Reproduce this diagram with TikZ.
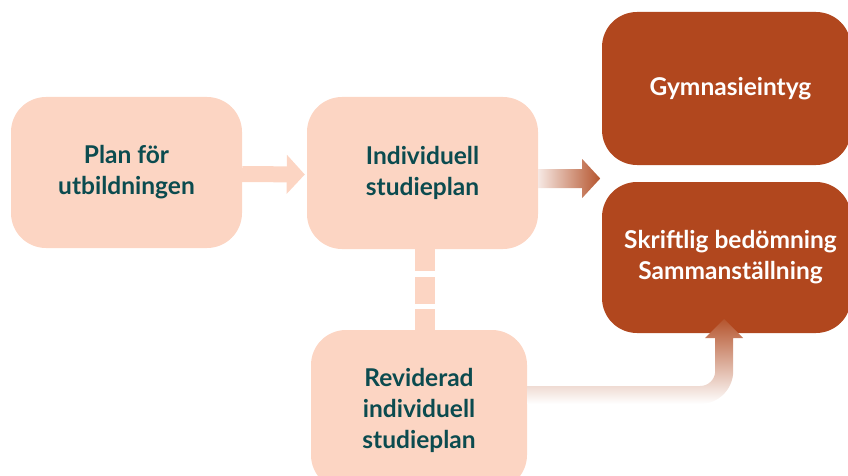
\documentclass[tikz,border=0pt]{standalone}
\usepackage{fontspec}
\setmainfont{Lato}[BoldFont={* Bold}]
\usetikzlibrary{arrows.meta,calc}
\definecolor{peach}{HTML}{FCD5C3}
\definecolor{rust}{HTML}{B1471E}
\definecolor{teal}{HTML}{0B4B4F}
\definecolor{fadeA}{HTML}{F6E8E3}
\definecolor{fadeB}{HTML}{B5552E}
\tikzset{
  lightbox/.style={fill=peach, rounded corners=35pt, inner sep=0pt, align=center,
    text=teal, font=\fontsize{24.5}{31}\selectfont\bfseries},
  darkbox/.style={fill=rust, rounded corners=35pt, inner sep=0pt, align=center,
    text=white, font=\fontsize{24.5}{31}\selectfont\bfseries},
  lightarrow/.style={draw=peach, line width=16pt, -{Triangle[width=38pt,length=18pt]}},
  dashlink/.style={draw=peach, line width=20pt, dash pattern=on 22pt off 6pt on 27pt off 5pt on 40pt},
}
\begin{document}
\begin{tikzpicture}[x=1pt,y=-1pt]
\useasboundingbox (0,0) rectangle (848,476);
\node[lightbox, minimum width=231pt, minimum height=151pt] (b1) at (126.5,172.5) {Plan för\\utbildningen};
\node[lightbox, minimum width=231pt, minimum height=152pt] (b2) at (422.5,173) {Individuell\\studieplan};
\node[lightbox, minimum width=216pt, minimum height=160pt] (b3) at (419,410) {Reviderad\\individuell\\studieplan};
\node[darkbox, minimum width=249pt, minimum height=153pt] (r1) at (726.5,88.5) {\hspace*{8pt}Gymnasieintyg};
\node[darkbox, minimum width=249pt, minimum height=151pt] (r2) at (726.5,257.5) {\hspace*{8pt}Skriftlig bedömning\\\hspace*{8pt}Sammanställning};
% arrow 1
\draw[lightarrow] ([yshift=-1.5pt]b1.east) -- ([xshift=-2pt,yshift=-1.5pt]b2.west);
% dashed link
\draw[dashlink] ([xshift=2.5pt]b2.south) -- ([xshift=2.5pt]b2.south |- b3.north);
% gradient arrow 2
\coordinate (a2s) at ([yshift=-5.5pt]b2.east);
\shade[left color=fadeA, right color=fadeB]
  ($(a2s)+(0,-9.5)$) -- ++(44,0) -- ++(0,-10) -- ($(a2s)+(62,0)$)
  -- ($(a2s)+(44,19.5)$) -- ++(0,-10) -- ($(a2s)+(0,9.5)$) -- cycle;
% gradient bent arrow 3
\coordinate (a3s) at ([yshift=15pt]b3.east);
\shade[top color=fadeB, bottom color=white]
  ($(a3s)+(0,-9)$) -- ++(173,0) arc[start angle=90, end angle=0, radius=15]
  -- ++(0,-33) -- ++(-10,0) -- ++(19,-19) -- ++(19,19) -- ++(-10,0)
  -- ++(0,33) arc[start angle=0, end angle=90, radius=33] -- ($(a3s)+(0,9)$) -- cycle;
\end{tikzpicture}
\end{document}
